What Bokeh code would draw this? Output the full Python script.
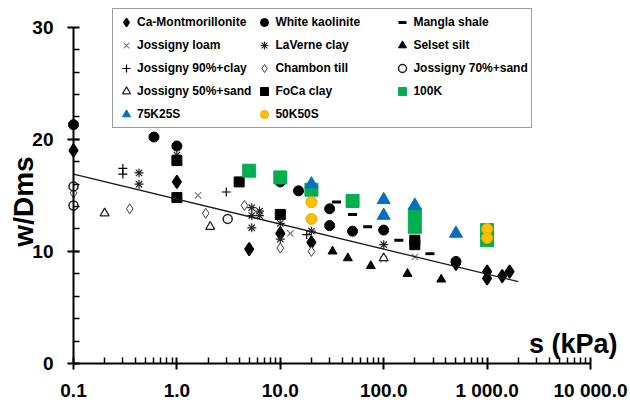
from math import pi

from bokeh.embed import file_html
from bokeh.models import FixedTicker, Label, Legend, LegendItem
from bokeh.plotting import figure
from bokeh.resources import INLINE

# ---- measured data: suction s (kPa) and normalised water content w/Dms ----
ca_mont_s = [0.1, 1.0, 5.0, 10.0, 20.0, 500.0, 1000.0, 1000.0, 1400.0, 1650.0]
ca_mont_w = [19.0, 16.2, 10.2, 11.6, 10.8, 8.9, 8.2, 7.6, 7.8, 8.2]

kaolinite_s = [0.1, 0.6, 1.0, 10.0, 15.0, 30.0, 30.0, 50.0, 100.0, 500.0]
kaolinite_w = [21.3, 20.2, 19.4, 16.2, 15.4, 13.8, 12.3, 11.8, 11.9, 9.1]

mangla_s = [35.0, 50.0, 70.0, 140.0, 280.0]
mangla_w = [14.4, 13.3, 12.2, 11.0, 9.8]

loam_s = [1.6, 12.5, 100.0, 200.0]
loam_w = [15.0, 11.6, 9.3, 9.5]

laverne_s = [0.43, 0.43, 1.0, 5.3, 5.3, 5.3, 6.3, 6.3, 10.0, 10.0, 20.0, 100.0]
laverne_w = [17.0, 16.0, 18.6, 13.9, 13.2, 12.1, 13.6, 13.2, 12.5, 11.1, 11.8, 10.6]

selset_s = [32.0, 45.0, 75.0, 170.0, 360.0]
selset_w = [10.0, 9.4, 8.7, 8.0, 7.5]

j90_s = [0.3, 0.3, 3.0, 18.0]
j90_w = [17.4, 16.9, 15.3, 11.5]

chambon_s = [0.1, 0.35, 1.9, 4.5, 10.0, 20.0]
chambon_w = [15.2, 13.8, 13.4, 14.1, 10.3, 10.0]

j70_s = [0.1, 0.1, 3.1]
j70_w = [15.8, 14.1, 12.9]

j50_s = [0.2, 2.1, 100.0]
j50_w = [13.4, 12.2, 9.4]

foca_s = [1.0, 1.0, 4.0, 10.0, 200.0, 200.0]
foca_w = [18.1, 14.8, 16.2, 13.3, 11.0, 10.6]

k100_s = [5.0, 10.0, 20.0, 50.0, 200.0, 200.0, 1000.0, 1000.0]
k100_w = [17.2, 16.6, 15.5, 14.5, 13.3, 12.2, 11.9, 11.0]

k75_s = [20.0, 100.0, 100.0, 200.0, 500.0]
k75_w = [16.0, 14.6, 13.2, 14.1, 11.6]

k50_s = [20.0, 20.0, 1000.0, 1000.0]
k50_w = [14.4, 12.9, 12.0, 11.2]

# fitted trend line (log-linear)
trend_s = [0.1, 2000.0]
trend_w = [16.9, 7.3]

# axis ticks
x_ticks = [0.1, 1.0, 10.0, 100.0, 1000.0, 10000.0]
x_tick_labels = ["0.1", "1.0", "10.0", "100.0", "1 000.0", "10 000.0"]
x_minor = [m * d for d in [0.1, 1.0, 10.0, 100.0, 1000.0] for m in range(2, 10)]
y_ticks = [0, 10, 20, 30]
y_minor = list(range(2, 30, 2))

FONT = "Liberation Sans"
W, H = 630, 404

# The frame fills the whole canvas; axes sit at fixed data positions so the
# legend and axis titles can float around them without being clipped.
AX_LEFT, AX_RIGHT = 73.0, 590.0     # pixel columns of s = 0.1 and s = 10 000
AX_BOTTOM, AX_TOP = 363.0, 26.7     # pixel rows of w = 0 and w = 30
px_dec = (AX_RIGHT - AX_LEFT) / 5.0
px_unit = (AX_BOTTOM - AX_TOP) / 30.0
x_rng = (10 ** (-1 - AX_LEFT / px_dec), 10 ** (4 + (W - AX_RIGHT) / px_dec))
y_rng = (-(H - AX_BOTTOM) / px_unit, 30 + AX_TOP / px_unit)

p = figure(
    width=W, height=H,
    x_axis_type="log", x_range=x_rng, y_range=y_rng,
    output_backend="svg", toolbar_location=None,
    min_border=0,
    background_fill_color="white", border_fill_color="white",
)
p.outline_line_color = None
p.grid.visible = False

# axes
for ax in (p.xaxis[0], p.yaxis[0]):
    ax.axis_line_color = "black"
    ax.axis_line_width = 2
    ax.major_tick_line_color = "black"
    ax.major_tick_line_width = 2
    ax.minor_tick_line_color = "black"
    ax.minor_tick_line_width = 1.5
    ax.major_tick_in = 6
    ax.major_tick_out = 6
    ax.minor_tick_in = 6
    ax.minor_tick_out = 0
    ax.major_label_text_font = FONT
    ax.major_label_text_font_style = "bold"
    ax.major_label_text_font_size = "19px"
    ax.major_label_text_color = "black"

p.xaxis.fixed_location = 0
p.xaxis.bounds = (0.1, 10000)
p.xaxis.ticker = FixedTicker(ticks=x_ticks, minor_ticks=x_minor)
p.xaxis.major_label_overrides = dict(zip(x_ticks, x_tick_labels))
p.xaxis.major_label_standoff = 10

p.yaxis.fixed_location = 0.1
p.yaxis.bounds = (0, 30)
p.yaxis.ticker = FixedTicker(ticks=y_ticks, minor_ticks=y_minor)
p.yaxis.major_label_standoff = 14

# series
r_ca = p.scatter(ca_mont_s, ca_mont_w, marker="diamond", size=13,
                 fill_color="black", line_color="black", line_width=1.5)
r_kao = p.scatter(kaolinite_s, kaolinite_w, marker="circle", size=10,
                  fill_color="black", line_color="black")
r_man = p.scatter(mangla_s, mangla_w, marker="dash", size=9,
                  line_color="black", line_width=3)
r_loam = p.scatter(loam_s, loam_w, marker="x", size=9,
                   line_color="#7f7f7f", line_width=1.2)
r_lav = p.scatter(laverne_s, laverne_w, marker="asterisk", size=9,
                  line_color="#262626", line_width=1.2)
r_sel = p.scatter(selset_s, selset_w, marker="triangle", size=9,
                  fill_color="black", line_color="black")
r_j90 = p.scatter(j90_s, j90_w, marker="cross", size=9,
                  line_color="black", line_width=1.2)
r_cha = p.scatter(chambon_s, chambon_w, marker="diamond", size=10,
                  fill_color="white", line_color="#404040", line_width=1)
r_j70 = p.scatter(j70_s, j70_w, marker="circle", size=9,
                  fill_color="white", line_color="#202020", line_width=1.5)
r_j50 = p.scatter(j50_s, j50_w, marker="triangle", size=9,
                  fill_color="white", line_color="#202020", line_width=1.2)
r_foca = p.scatter(foca_s, foca_w, marker="square", size=10,
                   fill_color="black", line_color="black")
r_100 = p.scatter(k100_s, k100_w, marker="square", size=13,
                  fill_color="#00b050", line_color="#00b050")
r_75 = p.scatter(k75_s, k75_w, marker="triangle", size=13,
                 fill_color="#0070c0", line_color="#0070c0")
r_50 = p.scatter(k50_s, k50_w, marker="circle", size=11,
                 fill_color="#ffc000", line_color="#f0a800", line_width=1)

p.line(trend_s, trend_w, line_color="#1a1a1a", line_width=1.3)

# axis titles
p.add_layout(Label(x=0.1, y=14.45, x_offset=-50, text="w/Dms", angle=pi / 2,
                   text_font=FONT, text_font_style="bold",
                   text_font_size="28px", text_align="center",
                   text_baseline="middle", text_color="black"))
p.add_layout(Label(x=10000, y=0, x_offset=27, y_offset=20, text="s (kPa)",
                   text_font=FONT, text_font_style="bold",
                   text_font_size="27px", text_align="right",
                   text_baseline="alphabetic", text_color="black"))

names = ["Ca-Montmorillonite", "White kaolinite", "Mangla shale",
         "Jossigny loam", "LaVerne clay", "Selset silt",
         "Jossigny 90%+clay", "Chambon till", "Jossigny 70%+sand",
         "Jossigny 50%+sand", "FoCa clay", "100K",
         "75K25S", "50K50S"]
rends = [r_ca, r_kao, r_man, r_loam, r_lav, r_sel, r_j90, r_cha, r_j70,
         r_j50, r_foca, r_100, r_75, r_50]

legend = Legend(
    items=[LegendItem(label=n, renderers=[r]) for n, r in zip(names, rends)],
    orientation="horizontal", ncols=3, location=(112, 276),
    glyph_width=20, glyph_height=20, label_height=20, label_width=114,
    label_standoff=1, padding=3, spacing=3, margin=0,
    border_line_color="#3a3a3a", border_line_width=1.5,
    background_fill_color="white", background_fill_alpha=1,
    label_text_font=FONT, label_text_font_style="bold",
    label_text_font_size="12px", label_text_color="black",
)
p.add_layout(legend, "center")

open("out.html", "w").write(file_html(p, INLINE))
